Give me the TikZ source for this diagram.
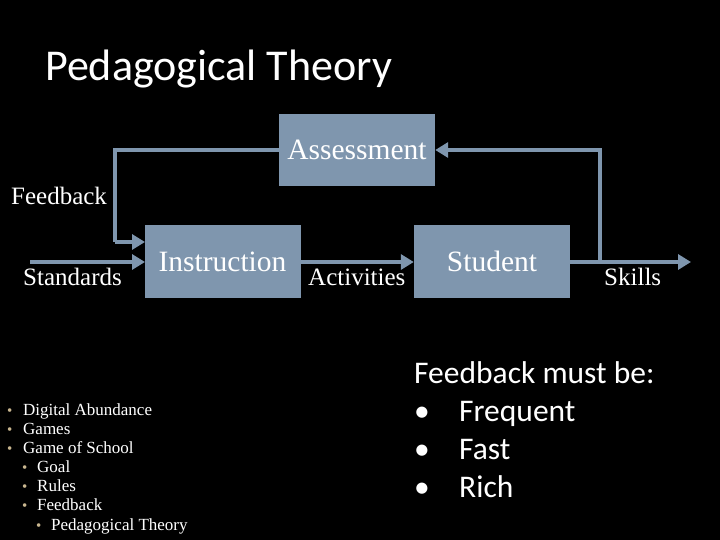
\documentclass[tikz,border=0pt]{standalone}
\usepackage{fontspec}
\setmainfont{Liberation Serif}
\newfontfamily\calib{Carlito}
\usetikzlibrary{arrows.meta}
\definecolor{boxc}{HTML}{7F96AE}
\definecolor{bulc}{HTML}{C9B68F}
\begin{document}
\begin{tikzpicture}[x=1pt,y=-1pt,
  box/.style={fill=boxc,draw=none,minimum width=156pt,minimum height=72pt,inner sep=0pt,text=white,font=\fontsize{29.5}{32}\selectfont},
  lab/.style={text=white,inner sep=0pt,anchor=base west,font=\fontsize{25}{28}\selectfont},
  conn/.style={draw=boxc,line width=4pt},
  arr/.style={conn,-{Triangle[length=13pt,width=15pt]}},
  sm/.style={text=white,inner sep=0pt,anchor=base west,font=\fontsize{17}{18}\selectfont},
  smb/.style={text=bulc,inner sep=0pt,anchor=base west,font=\fontsize{15}{18}\selectfont},
  big/.style={text=white,inner sep=0pt,anchor=base west,font=\calib\fontsize{31.5}{34}\selectfont}]
\fill[black] (0,0) rectangle (720,540);
\useasboundingbox (0,0) rectangle (720,540);
% title
\node[text=white,inner sep=0pt,anchor=base west,font=\calib\fontsize{44}{46}\selectfont] (title) at (45,81) {Pedagogical Theory};
% boxes
\node[box] (assess) at (357,150) {Assessment};
\node[box] (instr) at (222.5,261.5) {Instruction};
\node[box] (stud) at (492,261.5) {Student};
% coordinates
\coordinate (fbtop) at (115,150);
\coordinate (fbbot) at (115,242);
\coordinate (fbend) at (145,242);
\coordinate (stdstart) at (30,262);
\coordinate (stdend) at (145,262);
\coordinate (skend) at (691,262);
\coordinate (skup) at (600,262);
\coordinate (sktop) at (600,150);
% connectors
\draw[conn] (assess.west |- fbtop) -- (fbtop) -- (fbbot);
\draw[arr] (fbbot) -- (fbend);
\draw[arr] (stdstart) -- (stdend);
\draw[arr] (instr.east |- stdend) -- (stud.west |- stdend);
\draw[arr] (stud.east |- stdend) -- (skend);
\draw[arr] (skup) -- (sktop) -- (assess.east |- sktop);
% labels
\node[lab] (lfb) at (11,205) {Feedback};
\node[lab] (lstd) at (23,285) {Standards};
\node[lab] (lact) at (308,285) {Activities};
\node[lab] (lsk) at (604,285) {Skills};
% left bullet list
\node[smb] (b1) at (7,415) {•};   \node[sm] (t1) at (23,415) {Digital Abundance};
\node[smb] (b2) at (7,434) {•};   \node[sm] (t2) at (23,434) {Games};
\node[smb] (b3) at (7,453) {•};   \node[sm] (t3) at (23,453) {Game of School};
\node[smb] (b4) at (22,472) {•};  \node[sm] (t4) at (37,472) {Goal};
\node[smb] (b5) at (22,491) {•};  \node[sm] (t5) at (37,491) {Rules};
\node[smb] (b6) at (22,510) {•};  \node[sm] (t6) at (37,510) {Feedback};
\node[smb] (b7) at (36,530) {•};  \node[sm] (t7) at (51,530) {Pedagogical Theory};
% right list
\node[big] (r0) at (414,383) {Feedback must be:};
\node[big] (rb1) at (414,421) {•}; \node[big] (r1) at (459,421) {Frequent};
\node[big] (rb2) at (414,459) {•}; \node[big] (r2) at (459,459) {Fast};
\node[big] (rb3) at (414,497) {•}; \node[big] (r3) at (459,497) {Rich};
\end{tikzpicture}
\end{document}
